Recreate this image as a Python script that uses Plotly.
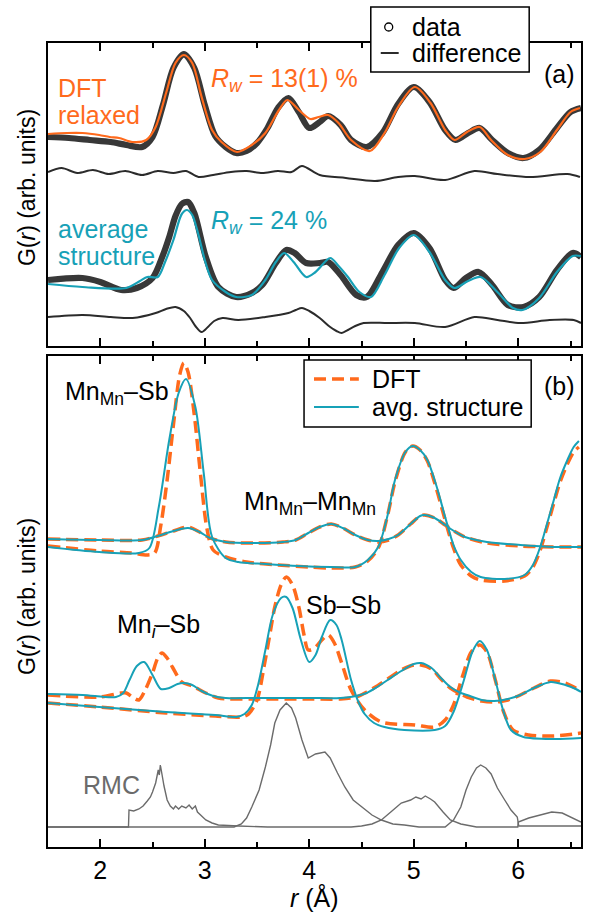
import plotly.graph_objects as go

# ---------------- panel (a): PDF fits (arb. units, offsets included) ----------------
R_DATA_TOP = [1.50,1.70,1.90,2.10,2.25,2.40,2.50,2.60,2.70,2.80,2.90,3.00,3.10,3.20,3.30,3.40,3.50,3.60,3.70,3.80,3.90,4.00,4.10,4.18,4.30,4.40,4.55,4.70,4.85,5.00,5.15,5.30,5.40,5.52,5.63,5.75,5.90,6.05,6.20,6.37,6.50,6.60]
G_DATA_TOP = [209,208,206,204,201,199,209,241,278,292,278,241,210,199,193,195,203,218,238,248,234,218,224,230,221,206,199,213,242,259,244,216,206,213,218,206,193,188,196,218,234,238]

R_DFT_TOP = [1.50,1.68,1.83,1.99,2.09,2.18,2.31,2.44,2.53,2.63,2.72,2.80,2.88,2.97,3.07,3.16,3.31,3.45,3.58,3.71,3.79,3.90,4.01,4.09,4.18,4.28,4.40,4.58,4.72,4.85,5.01,5.16,5.30,5.39,5.51,5.63,5.74,5.90,6.06,6.21,6.37,6.50,6.59]
G_DFT_TOP = [212,213,213,211,209,208,204,206,219,253,283,291,283,249,216,204,194,201,213,236,246,236,227,229,231,223,206,195,213,239,259,243,216,206,214,219,206,191,187,194,216,234,238]

R_DIFF_TOP = [1.50,1.63,1.78,1.93,2.08,2.24,2.40,2.55,2.70,2.82,2.94,3.08,3.25,3.40,3.55,3.70,3.83,3.93,4.10,4.35,4.63,4.85,5.01,5.30,5.58,5.80,6.11,6.47,6.59]
G_DIFF_TOP = [174,178,173,176,172,175,171,175,173,175,169,171,174,175,173,175,174,180,171,168,165,169,170,166,175,172,169,172,169]

R_DATA_BOT = [1.50,1.83,2.00,2.20,2.35,2.50,2.60,2.66,2.72,2.78,2.84,2.90,3.01,3.13,3.30,3.45,3.55,3.68,3.78,3.86,3.97,4.10,4.18,4.30,4.45,4.55,4.70,4.85,5.00,5.15,5.30,5.38,5.50,5.62,5.75,5.90,6.05,6.20,6.37,6.52,6.60]
G_DATA_BOT = [66,68,64,56,58,68,91,109,130,142,144,133,89,59,49,53,61,83,96,93,83,83,84,71,51,49,74,101,113,98,66,58,68,74,61,41,39,49,76,93,89]

R_AVG_BOT = [1.50,1.83,2.25,2.38,2.45,2.55,2.62,2.70,2.78,2.83,2.88,2.94,3.00,3.07,3.20,3.30,3.45,3.58,3.68,3.76,3.85,3.97,4.06,4.20,4.28,4.37,4.48,4.59,4.72,4.86,5.00,5.15,5.30,5.39,5.52,5.64,5.80,5.95,6.04,6.20,6.37,6.52,6.60]
G_AVG_BOT = [62,59,58,65,69,69,84,106,132,136,131,111,86,66,54,49,51,66,84,93,84,69,74,88,80,69,54,49,71,98,111,94,66,58,65,69,54,38,36,48,74,90,90]

R_DIFF_BOT = [1.50,1.83,2.10,2.31,2.53,2.63,2.72,2.80,2.86,2.91,2.97,3.03,3.09,3.17,3.32,3.58,3.80,3.87,3.93,4.00,4.10,4.20,4.26,4.31,4.37,4.44,4.52,4.75,5.01,5.30,5.58,5.80,6.02,6.30,6.53,6.60]
G_DIFF_BOT = [29,31,29,28,33,37,39,35,28,20,14,19,25,28,26,29,33,36,38,35,28,19,15,13,16,20,23,23,23,19,29,26,23,26,26,23]

# ---------------- panel (b): partial PDFs ----------------
R_DFT_A = [1.50,1.99,2.30,2.45,2.52,2.58,2.64,2.70,2.76,2.80,2.84,2.90,2.96,3.02,3.08,3.20,3.40,3.70,4.00,4.21,4.44,4.56,4.66,4.75,4.82,4.92,4.99,5.06,5.13,5.22,5.30,5.38,5.45,5.55,5.64,5.87,6.06,6.14,6.21,6.28,6.34,6.40,6.47,6.53,6.58]
G_DFT_A = [301,296,294,292,294,322,367,422,472,484,475,432,372,319,297,290,285,282,280,279,280,286,299,332,365,395,401,397,386,357,327,299,282,271,267,266,271,280,297,322,344,365,383,395,400]

R_AVG_A = [1.50,1.99,2.37,2.47,2.56,2.66,2.75,2.82,2.91,2.99,3.07,3.20,3.32,3.58,3.90,4.21,4.44,4.56,4.66,4.75,4.82,4.92,4.99,5.06,5.13,5.22,5.30,5.38,5.45,5.55,5.64,5.87,6.06,6.14,6.21,6.28,6.34,6.40,6.47,6.53,6.58]
G_AVG_A = [300,295,294,299,340,407,454,468,440,374,310,289,285,283,281,280,280,287,300,332,367,395,401,397,387,360,330,302,287,275,270,268,272,282,300,325,347,369,387,400,406]

R_B = [1.50,2.00,2.40,2.55,2.70,2.84,2.95,3.05,3.20,3.50,3.75,3.87,3.99,4.10,4.21,4.32,4.44,4.56,4.66,4.76,4.85,4.97,5.06,5.10,5.20,5.30,5.40,5.49,5.70,6.02,6.34,6.60]
G_AVG_B = [308,307,307,311,316,319,315,309,305,304,305,307,314,320,323,319,312,307,306,308,312,323,331,332,329,322,315,310,305,302,300,300]
G_DFT_B = [308,307,307,311,316,320,315,309,305,304,305,307,314,320,323,319,312,307,305,307,312,323,331,332,329,322,315,310,304,301,300,300]

R_AVG_C = [1.50,1.83,2.15,2.22,2.28,2.35,2.42,2.50,2.58,2.66,2.74,2.80,2.88,2.97,3.08,3.20,3.50,4.00,4.30,4.45,4.55,4.65,4.75,4.88,5.00,5.07,5.17,5.26,5.35,5.45,5.51,5.65,5.77,5.90,6.02,6.15,6.31,6.45,6.55,6.60]
G_AVG_C = [153,152,150,154,167,181,185,172,158,159,163,164,162,156,151,149,149,149,149,151,154,160,167,176,183,184,179,169,160,154,152,147,146,148,152,159,165,162,158,155]

R_DFT_C = [1.50,1.99,2.20,2.25,2.32,2.37,2.43,2.50,2.55,2.59,2.64,2.69,2.78,2.88,3.01,3.13,3.50,4.00,4.30,4.45,4.55,4.65,4.75,4.88,5.00,5.07,5.17,5.26,5.35,5.45,5.51,5.65,5.77,5.90,6.02,6.15,6.31,6.45,6.55,6.60]
G_DFT_C = [152,150,154,154,149,147,157,174,189,194,189,180,165,161,154,149,148,148,148,150,155,161,168,177,182,182,178,168,159,153,150,146,145,147,152,159,166,164,159,157]

R_AVG_D = [1.50,1.99,2.63,3.10,3.30,3.38,3.45,3.51,3.58,3.65,3.73,3.78,3.84,3.92,4.00,4.06,4.12,4.20,4.26,4.31,4.40,4.47,4.53,4.62,4.72,4.91,5.20,5.30,5.38,5.48,5.56,5.63,5.70,5.78,5.86,5.93,6.05,6.34,6.60]
G_AVG_D = [144,140,135,132,130,133,142,162,197,232,249,250,239,207,185,192,210,227,222,207,167,145,133,124,120,117,117,121,135,167,195,206,197,167,135,117,110,108,109]

R_DFT_D = [1.50,1.99,2.63,3.10,3.35,3.42,3.50,3.57,3.63,3.67,3.73,3.78,3.84,3.90,3.95,3.99,4.05,4.12,4.18,4.24,4.31,4.40,4.53,4.69,5.01,5.20,5.30,5.38,5.47,5.55,5.63,5.70,5.78,5.86,5.95,6.10,6.34,6.60]
G_DFT_D = [144,140,134,131,130,133,147,182,217,240,262,270,262,240,212,197,199,207,212,204,184,157,137,125,122,120,127,142,172,195,202,195,167,135,117,112,111,114]

R_RMC1 = [1.50,2.27,2.275,2.32,2.37,2.41,2.45,2.48,2.50,2.53,2.555,2.565,2.575,2.585,2.60,2.61,2.64,2.67,2.70,2.72,2.75,2.78,2.82,2.85,2.88,2.91,2.93,2.96,3.01,3.07,3.13,3.32,3.60,4.40,4.50,4.60,4.69,4.78,4.88,4.97,5.02,5.07,5.11,5.16,5.20,5.28,5.35,5.45,5.55,5.60,5.995,6.00,6.10,6.20,6.32,6.42,6.52,6.60]
G_RMC1 = [20,20,37,36,38,41,46,50,55,64,77,72,82,74,67,61,47,41,38,41,38,41,39,42,38,41,35,32,27,24,22,21,20,20,21,23,27,35,44,47,50,48,51,48,45,35,27,23,21,20,20,25,29,32,35,34,29,25]

R_RMC2 = [1.50,3.28,3.35,3.40,3.45,3.52,3.58,3.63,3.67,3.72,3.78,3.83,3.87,3.93,3.99,4.06,4.15,4.20,4.27,4.34,4.42,4.50,4.60,4.69,4.80,4.91,5.05,5.30,5.38,5.45,5.50,5.55,5.60,5.64,5.69,5.74,5.80,5.87,5.93,5.99,6.005,6.60]
G_RMC2 = [20,20,23,29,40,57,80,102,124,137,144,139,129,107,89,93,95,89,74,60,47,40,32,27,23,22,20,20,27,40,57,70,79,82,79,73,59,47,37,30,21,21]

X_RANGE = [1.5, 6.6]
X_TICKS = [2, 3, 4, 5, 6]
YA_RANGE = [0, 303]
YB_RANGE = [0, 491]

LEGEND_A = ["data", "difference"]
LEGEND_B = ["DFT", "avg. structure"]

ORANGE = "#ff6a1c"
CYAN = "#17a1b7"
DARK = "#2b2b2b"
GRAY = "#6b6b6b"
FONT = "Liberation Sans, Arial, sans-serif"
FS = 25
SM = 0.85

# figure geometry (pixels)
W, H = 590, 915
ML, MR, MT, MB = 48, 7, 43, 68
PW, PH = W - ML - MR, H - MT - MB


def px(x):
    return (x - ML) / PW


def py(y):
    return (H - MB - y) / PH


fig = go.Figure()

# panel (a)
for r, g in [(R_DATA_TOP, G_DATA_TOP), (R_DATA_BOT, G_DATA_BOT)]:
    fig.add_trace(go.Scatter(x=r, y=g, mode="lines", name="data",
                             line=dict(color="#383838", width=6.2, shape="spline", smoothing=SM),
                             xaxis="x2", yaxis="y2", showlegend=False, hoverinfo="skip"))
fig.add_trace(go.Scatter(x=R_DFT_TOP, y=G_DFT_TOP, mode="lines", name="DFT relaxed",
                         line=dict(color=ORANGE, width=2.2, shape="spline", smoothing=SM),
                         xaxis="x2", yaxis="y2", showlegend=False))
fig.add_trace(go.Scatter(x=R_AVG_BOT, y=G_AVG_BOT, mode="lines", name="average structure",
                         line=dict(color=CYAN, width=2.2, shape="spline", smoothing=SM),
                         xaxis="x2", yaxis="y2", showlegend=False))
for r, g in [(R_DIFF_TOP, G_DIFF_TOP), (R_DIFF_BOT, G_DIFF_BOT)]:
    fig.add_trace(go.Scatter(x=r, y=g, mode="lines", name="difference",
                             line=dict(color=DARK, width=2, shape="spline", smoothing=SM),
                             xaxis="x2", yaxis="y2", showlegend=False))

# panel (b)
for r, g in [(R_RMC1, G_RMC1), (R_RMC2, G_RMC2)]:
    fig.add_trace(go.Scatter(x=r, y=g, mode="lines", name="RMC", line=dict(color=GRAY, width=1.4),
                             xaxis="x", yaxis="y", showlegend=False))

pairs = [((R_DFT_A, G_DFT_A), (R_AVG_A, G_AVG_A)),
         ((R_B, G_DFT_B), (R_B, G_AVG_B)),
         ((R_DFT_C, G_DFT_C), (R_AVG_C, G_AVG_C)),
         ((R_DFT_D, G_DFT_D), (R_AVG_D, G_AVG_D))]
for (rd, gd), _ in pairs:
    fig.add_trace(go.Scatter(x=rd, y=gd, mode="lines", name="DFT",
                             line=dict(color=ORANGE, width=3.5, dash="12px,6px", shape="spline", smoothing=SM),
                             xaxis="x", yaxis="y", showlegend=False))
for _, (ra, ga) in pairs:
    fig.add_trace(go.Scatter(x=ra, y=ga, mode="lines", name="avg. structure",
                             line=dict(color=CYAN, width=2, shape="spline", smoothing=SM),
                             xaxis="x", yaxis="y", showlegend=False))

xcommon = dict(range=X_RANGE, tickvals=X_TICKS, ticks="inside", ticklen=8, tickwidth=1.5, tickcolor="black",
               showline=True, linecolor="black", linewidth=1.8, mirror="ticks", showgrid=False, zeroline=False,
               minor=dict(dtick=0.5, tick0=0, ticks="inside", ticklen=5, tickwidth=1.5, tickcolor="black"))
ycommon = dict(showticklabels=False, ticks="", showline=True, linecolor="black", linewidth=1.8, mirror=True,
               showgrid=False, zeroline=False)

ann = []
shapes = []


def text(x, y, s, color="black", xanchor="left", size=FS):
    ann.append(dict(x=px(x), y=py(y), xref="paper", yref="paper", text=s, showarrow=False,
                    xanchor=xanchor, yanchor="middle", borderpad=0,
                    font=dict(color=color, size=size, family=FONT)))


text(57, 88, "DFT", ORANGE)
text(57, 115, "relaxed", ORANGE)
text(211, 80, "<i>R</i><sub><i>w</i></sub> = 13(1) %", ORANGE)
text(57, 229, "average", CYAN)
text(57, 256, "structure", CYAN)
text(211, 222, "<i>R</i><sub><i>w</i></sub> = 24 %", CYAN)
text(578, 74, "(a)", xanchor="right")
text(578, 386, "(b)", xanchor="right")
text(64, 393, "Mn<sub>Mn</sub>–Sb")
text(244, 503, "Mn<sub>Mn</sub>–Mn<sub>Mn</sub>")
text(116, 626, "Mn<sub><i>i</i></sub>–Sb")
text(306, 605, "Sb–Sb")
text(82, 785, "RMC", GRAY)


# legend boxes (drawn as shapes + text)
def box(x0, y0, x1, y1):
    shapes.append(dict(type="rect", xref="paper", yref="paper", x0=px(x0), x1=px(x1), y0=py(y0), y1=py(y1),
                       line=dict(color="black", width=1.5), fillcolor="white", layer="above"))


def seg(x0, x1, y, color, width, dash="solid"):
    shapes.append(dict(type="line", xref="paper", yref="paper", x0=px(x0), x1=px(x1), y0=py(y), y1=py(y),
                       line=dict(color=color, width=width, dash=dash), layer="above"))


box(372, 7, 531, 72)
shapes.append(dict(type="circle", xref="paper", yref="paper", xsizemode="pixel", ysizemode="pixel",
                   xanchor=px(390), yanchor=py(27), x0=-4, x1=4, y0=-4, y1=4,
                   line=dict(color="black", width=1.3), fillcolor="rgba(0,0,0,0)", layer="above"))
text(412, 27, LEGEND_A[0])
seg(382, 400, 53, DARK, 2)
text(412, 53, LEGEND_A[1])

box(305, 360, 533, 427)
seg(315, 360, 379, ORANGE, 3.5, "12px,6px")
text(372, 379, LEGEND_B[0])
seg(315, 360, 407, CYAN, 2)
text(372, 407, LEGEND_B[1])

# axis titles
for yc in (188, 597):
    ann.append(dict(x=px(27), y=py(yc), xref="paper", yref="paper", text="G(<i>r</i>) (arb. units)",
                    textangle=-90, showarrow=False, xanchor="center", yanchor="middle",
                    font=dict(size=23, family=FONT, color="black")))
ann.append(dict(x=px(315), y=py(897), xref="paper", yref="paper", text="<i>r</i> (Å)", showarrow=False,
                xanchor="center", yanchor="middle", font=dict(size=FS, family=FONT, color="black")))

fig.update_layout(
    width=W, height=H, margin=dict(l=ML, r=MR, t=MT, b=MB),
    paper_bgcolor="white", plot_bgcolor="white",
    font=dict(family=FONT, size=FS, color="black"),
    xaxis=dict(**xcommon, anchor="y", showticklabels=True, tickfont=dict(size=FS)),
    yaxis=dict(**ycommon, domain=[0, py(356)], range=YB_RANGE),
    xaxis2=dict(**xcommon, anchor="y2", matches="x", showticklabels=False),
    yaxis2=dict(**ycommon, domain=[py(346), 1], range=YA_RANGE),
    annotations=ann,
    shapes=shapes,
    showlegend=False,
)

fig.write_html("out.html")
